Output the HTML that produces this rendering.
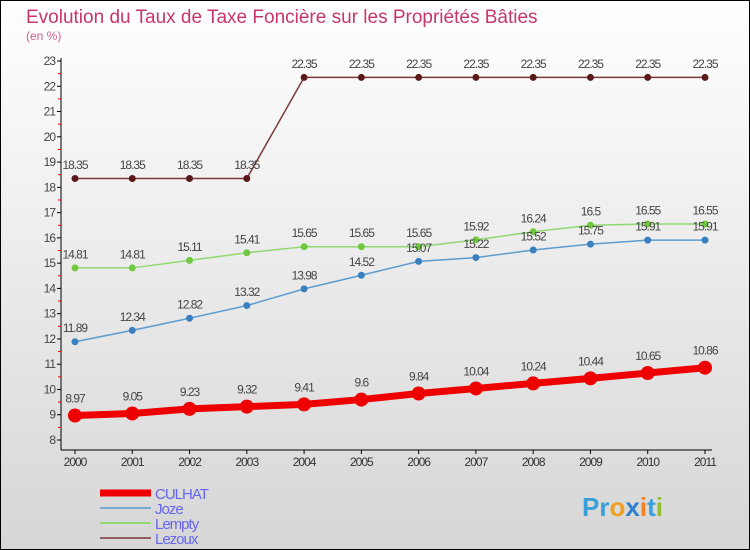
<!DOCTYPE html>
<html><head><meta charset="utf-8"><style>
body{margin:0}
svg{display:block;font-family:"Liberation Sans",sans-serif}
</style></head><body>
<svg width="750" height="550">
<defs><linearGradient id="bg" x1="0" y1="0" x2="0" y2="1"><stop offset="0" stop-color="#ffffff"/><stop offset="1" stop-color="#d6d6d6"/></linearGradient></defs>
<rect x="0.5" y="0.5" width="749" height="549" fill="url(#bg)" stroke="#000"/>
<text x="26" y="23" font-size="19" fill="#c8356b">Evolution du Taux de Taxe Foncière sur les Propriétés Bâties</text>
<text x="26" y="40" font-size="12" fill="#d0608a">(en %)</text>
<g id="axes"></g><g id="series"></g><g id="legend"></g>
<text x="582" y="516" font-size="26" font-weight="bold" fill="#3aa0d8">Pr<tspan fill="#f0a020">o</tspan><tspan fill="#3080d0">x</tspan><tspan fill="#f08020">i</tspan>t<tspan fill="#90c030">i</tspan></text>
</svg>
<script>
const years=["2000","2001","2002","2003","2004","2005","2006","2007","2008","2009","2010","2011"];
const yTicks=[8,9,10,11,12,13,14,15,16,17,18,19,20,21,22,23];
const culhat=[8.97,9.05,9.23,9.32,9.41,9.6,9.84,10.04,10.24,10.44,10.65,10.86];
const joze=[11.89,12.34,12.82,13.32,13.98,14.52,15.07,15.22,15.52,15.75,15.91,15.91];
const lempty=[14.81,14.81,15.11,15.41,15.65,15.65,15.65,15.92,16.24,16.5,16.55,16.55];
const lezoux=[18.35,18.35,18.35,18.35,22.35,22.35,22.35,22.35,22.35,22.35,22.35,22.35];
const NS="http://www.w3.org/2000/svg";
const X=i=>75+i*(630/11);
const Y=v=>440-(v-8)*(379/15);
function mk(t,a,p){const e=document.createElementNS(NS,t);for(const k in a)e.setAttribute(k,a[k]);p.appendChild(e);return e;}
const ax=document.getElementById('axes');
let e=mk('line',{x1:61,y1:58,x2:61,y2:450,stroke:'#000'},ax);


e=mk('line',{x1:61,y1:450,x2:712,y2:450,stroke:'#000'},ax);


yTicks.forEach(v=>{
 mk('line',{x1:57,y1:Y(v),x2:61,y2:Y(v),stroke:'#000'},ax);
 if(v<23) mk('line',{x1:58,y1:Y(v+0.5),x2:61,y2:Y(v+0.5),stroke:'#e00'},ax);
 const t=mk('text',{x:55,y:Y(v)+4,'font-size':12,fill:'#444','text-anchor':'end','letter-spacing':'-1'},ax);
 t.textContent=v;
 
 
});
years.forEach((y,i)=>{
 mk('line',{x1:X(i),y1:450,x2:X(i),y2:454,stroke:'#000'},ax);
 const t=mk('text',{x:X(i),y:466,'font-size':12,fill:'#333','text-anchor':'middle','letter-spacing':'-1'},ax);
 t.textContent=y;
 
 
});
const sg=document.getElementById('series');
function series(name,data,color,dot,w,r){
 const g=mk('g',{},sg);
 
 
 mk('polyline',{points:data.map((v,i)=>X(i)+','+Y(v)).join(' '),fill:'none',stroke:color,'stroke-width':w},g);
 data.forEach((v,i)=>{
  const c=mk('circle',{cx:X(i),cy:Y(v),r:r,fill:dot},g);
  
  
  const t=mk('text',{x:X(i),y:Y(v)-(r+6),'font-size':12,fill:'#444','text-anchor':'middle','letter-spacing':'-1'},g);
  t.textContent=v;
  
  
 });
}
series('lezoux',lezoux,'#7a3a3a','#5a1a1a',1.5,3.5);
series('lempty',lempty,'#90d870','#70c840',1.5,3.5);
series('joze',joze,'#5b9bd0','#3a80c0',1.5,3.5);
series('culhat',culhat,'#ee0000','#ee0000',7,7);
const lg=document.getElementById('legend');
[['CULHAT','#ee0000',7],['Joze','#7aaad0',2],['Lempty','#90d870',2],['Lezoux','#906060',2]].forEach((s,i)=>{
 const y=493+i*15;
 const l=mk('line',{x1:100,y1:y,x2:151,y2:y,stroke:s[1],'stroke-width':s[2]},lg);
 
 
 const t=mk('text',{x:155,y:y+6,'font-size':15,fill:'#6666ee','letter-spacing':'-1'},lg);
 t.textContent=s[0];
 
 
});
</script>
</body></html>
